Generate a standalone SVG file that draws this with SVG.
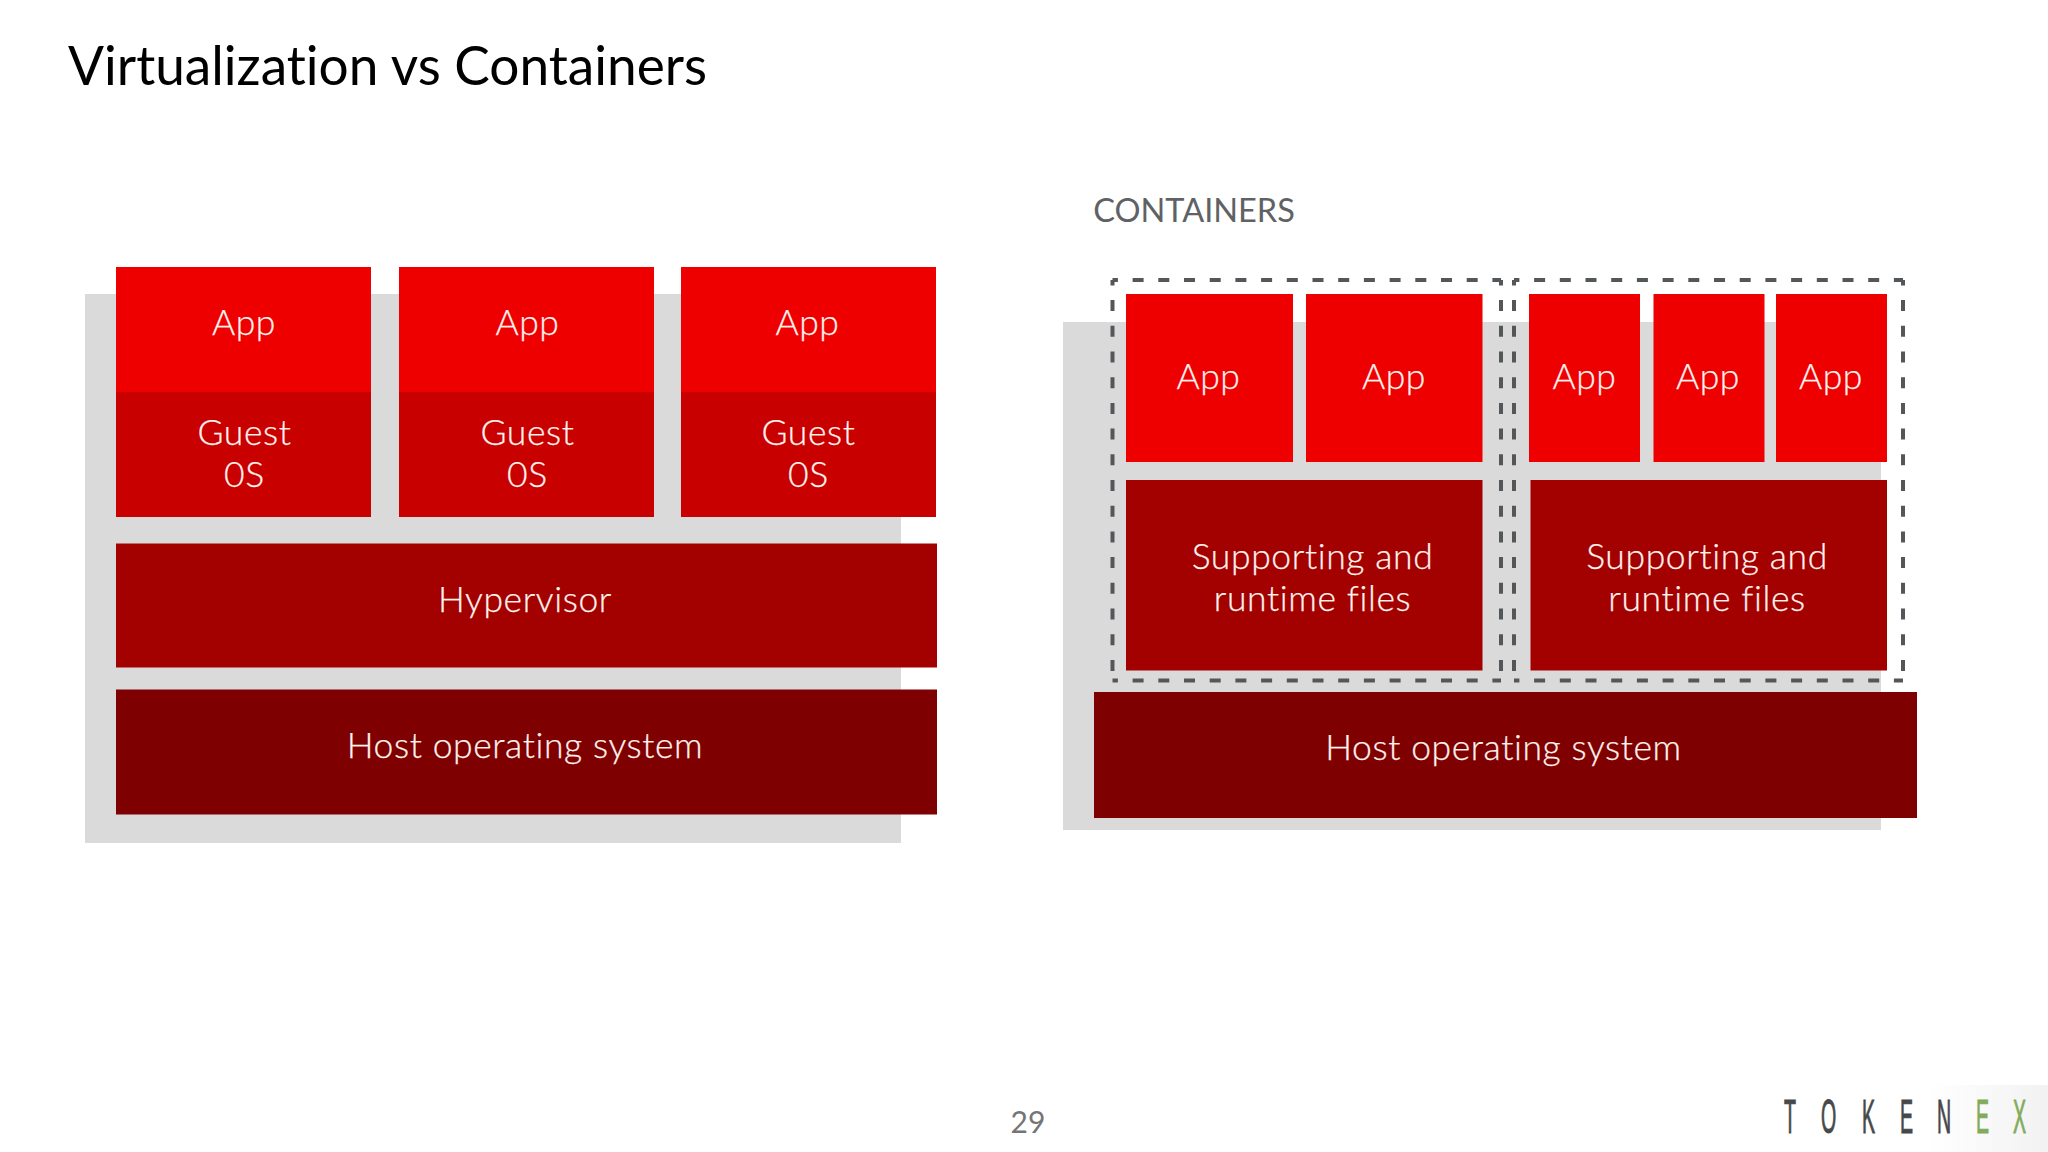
<svg xmlns="http://www.w3.org/2000/svg" width="2048" height="1152" viewBox="0 0 2048 1152">
<style>
.bg{fill:#dadada}
.app{fill:#ee0000}
.guest{fill:#c90000}
.hyp,.sup{fill:#a30000}
.host{fill:#7f0000}
.lbl{font-family:"Lato","Open Sans",sans-serif;font-weight:300;font-size:35.5px;letter-spacing:.6px;fill:#fff3ef;stroke:#fff3ef;stroke-width:.25;text-anchor:middle}
.dash{fill:none;stroke:#54575a;stroke-width:4;stroke-dasharray:11 14.7;stroke-dashoffset:5.6}
.title{font-family:"Lato","Open Sans",sans-serif;font-size:54px;fill:#000;font-variant-ligatures:none}
.logo{font-family:"Liberation Sans",Arial,sans-serif;font-size:49px;fill:#47484a;stroke:#47484a;stroke-width:1}
</style>
<defs><linearGradient id="fade" x1="0" x2="1" y1="0" y2="0"><stop offset="0" stop-color="#ffffff"/><stop offset="1" stop-color="#f1f2f1"/></linearGradient></defs>
<rect width="2048" height="1152" fill="#fff"/>
<text id="title" class="title" x="68" y="85" textLength="639" lengthAdjust="spacingAndGlyphs">Virtualization vs Containers</text>

<rect id="vm-backdrop" class="bg" x="85" y="294" width="816" height="549"/>
<g id="vm-app-1"><rect class="app" x="116" y="267" width="255" height="125"/><text class="lbl" x="244" y="335">App</text></g>
<g id="vm-guest-1"><rect class="guest" x="116" y="392" width="255" height="125"/><text class="lbl" x="244.500" y="445">Guest</text><text class="lbl" x="244.500" y="487">0S</text></g>
<g id="vm-app-2"><rect class="app" x="399" y="267" width="255" height="125"/><text class="lbl" x="527.500" y="335">App</text></g>
<g id="vm-guest-2"><rect class="guest" x="399" y="392" width="255" height="125"/><text class="lbl" x="527.500" y="445">Guest</text><text class="lbl" x="527.500" y="487">0S</text></g>
<g id="vm-app-3"><rect class="app" x="681" y="267" width="255" height="125"/><text class="lbl" x="807.500" y="335">App</text></g>
<g id="vm-guest-3"><rect class="guest" x="681" y="392" width="255" height="125"/><text class="lbl" x="808.500" y="445">Guest</text><text class="lbl" x="808.500" y="487">0S</text></g>
<g id="vm-hypervisor"><rect class="hyp" x="116" y="543.500" width="821" height="124"/><text class="lbl" x="525" y="612">Hypervisor</text></g>
<g id="vm-host"><rect class="host" x="116" y="689.500" width="821" height="125"/><text class="lbl" x="525" y="758">Host operating system</text></g>

<text id="containers-heading" x="1194" y="222" text-anchor="middle" font-family="Lato,'Open Sans',sans-serif" font-weight="400" font-size="32.500" fill="#5f6265">CONTAINERS</text>
<rect id="ct-backdrop" class="bg" x="1063" y="322" width="818" height="508"/>
<g id="ct-app-1"><rect class="app" x="1126" y="294" width="167" height="168"/><text class="lbl" x="1208.500" y="389">App</text></g>
<g id="ct-app-2"><rect class="app" x="1306" y="294" width="176.500" height="168"/><text class="lbl" x="1394" y="389">App</text></g>
<g id="ct-app-3"><rect class="app" x="1529" y="294" width="111" height="168"/><text class="lbl" x="1584.500" y="389">App</text></g>
<g id="ct-app-4"><rect class="app" x="1653.500" y="294" width="111" height="168"/><text class="lbl" x="1708" y="389">App</text></g>
<g id="ct-app-5"><rect class="app" x="1776" y="294" width="111" height="168"/><text class="lbl" x="1831" y="389">App</text></g>
<g id="ct-support-1"><rect class="sup" x="1126" y="480" width="356.500" height="190.500"/><text class="lbl" x="1312.500" y="568.500">Supporting and</text><text class="lbl" x="1312.500" y="610.500">runtime files</text></g>
<g id="ct-support-2"><rect class="sup" x="1530.500" y="480" width="356.500" height="190.500"/><text class="lbl" x="1707" y="568.500">Supporting and</text><text class="lbl" x="1707" y="610.500">runtime files</text></g>
<g id="ct-host"><rect class="host" x="1094" y="692" width="823" height="126"/><text class="lbl" x="1503.500" y="760">Host operating system</text></g>

<g id="connectors">
<path class="dash" d="M1112.500 280H1501M1112.500 280V680.500M1112.500 680.500H1501M1501 280V680.500"/>
<path class="dash" d="M1514 280H1903M1514 280V680.500M1514 680.500H1903M1903 280V680.500"/>
</g>

<text id="page-number" x="1028" y="1133" text-anchor="middle" font-family="Lato,'Open Sans',sans-serif" font-size="30" fill="#757575">29</text>
<g id="logo">
<rect x="1928" y="1085" width="120" height="67" fill="url(#fade)"/>
<g transform="translate(1784 1133) scale(.4 1)"><text class="logo" x="0 92.500 195 290 382.500 480 572.500" y="0">TOKEN<tspan fill="#83ab5a" stroke="#83ab5a">EX</tspan></text></g>
</g>
</svg>
